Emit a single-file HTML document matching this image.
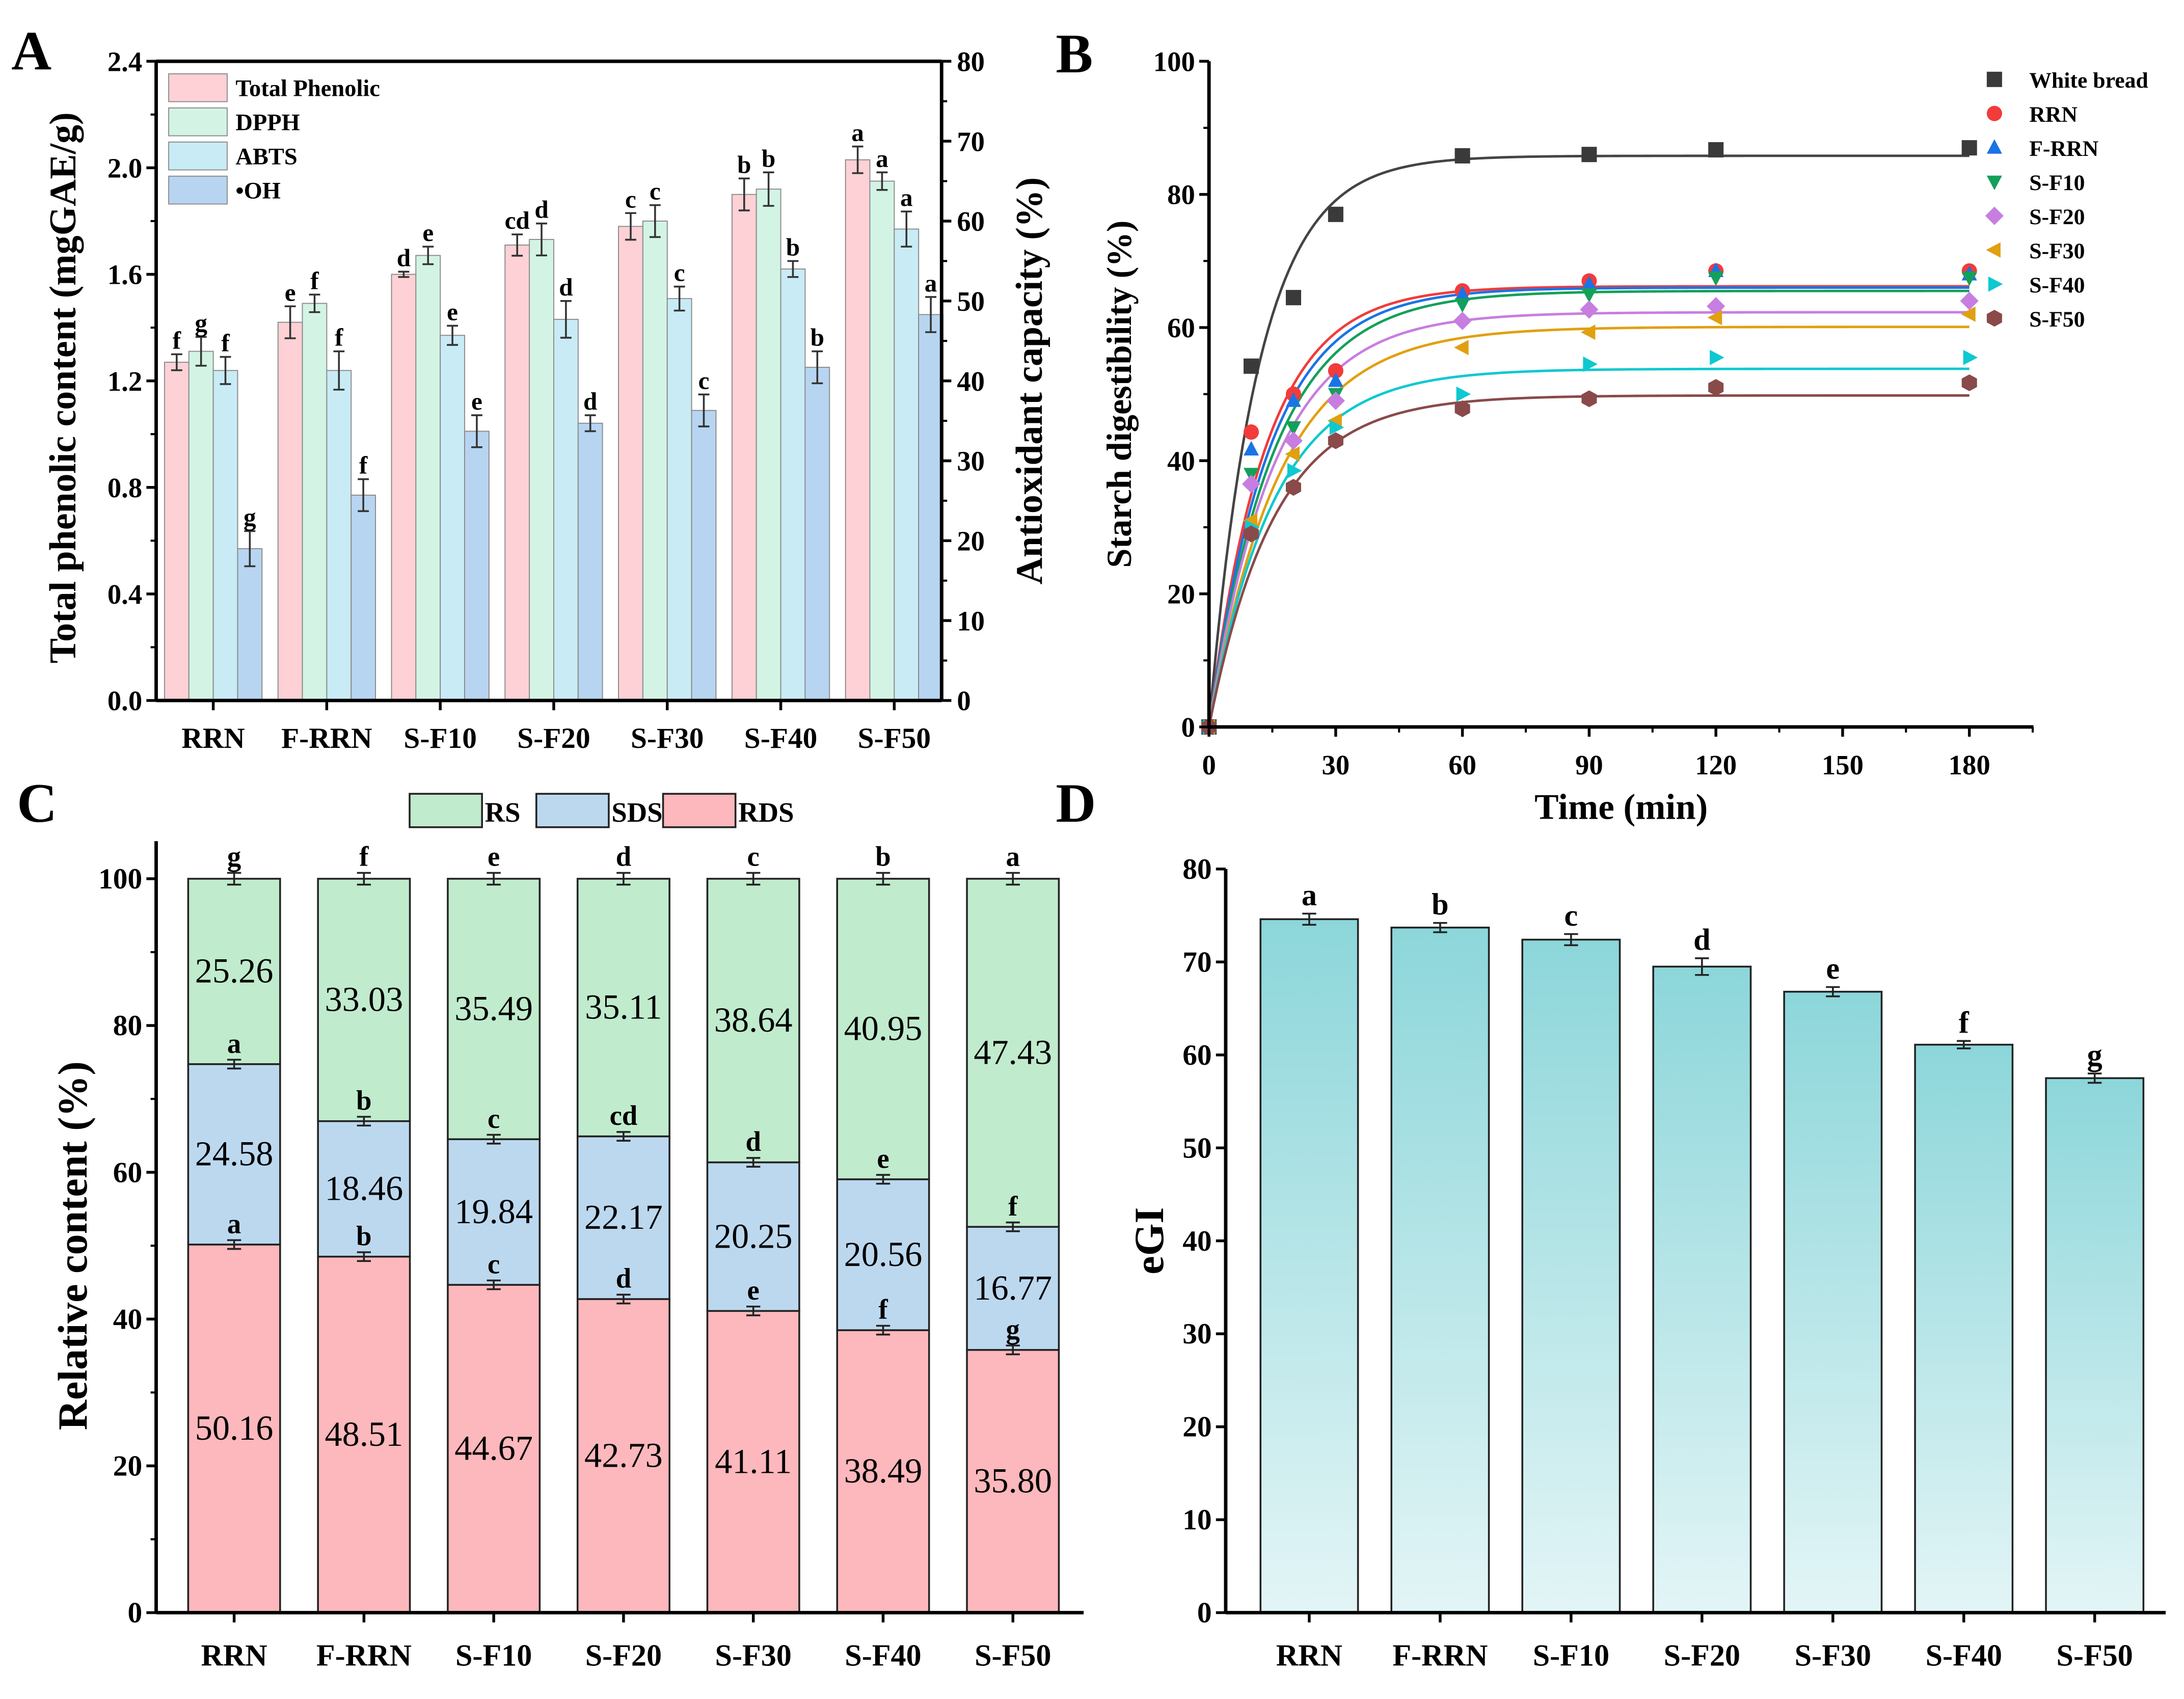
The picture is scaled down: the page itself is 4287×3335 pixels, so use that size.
<!DOCTYPE html>
<html><head><meta charset="utf-8"><style>
html,body{margin:0;padding:0;background:#fff}
svg{display:block;font-family:"Liberation Serif",serif;font-weight:bold}
</style></head><body>
<svg id="s" width="4287" height="3335" viewBox="0 0 1568 1220" xmlns="http://www.w3.org/2000/svg">
<defs><linearGradient id="gd" x1="0" y1="0" x2="0" y2="1"><stop offset="0" stop-color="#8cd6da"/><stop offset="1" stop-color="#e3f5f6"/></linearGradient></defs>
<text x="8" y="50" font-size="40">A</text>
<text x="758" y="52" font-size="40">B</text>
<text x="12" y="590" font-size="40">C</text>
<text x="758" y="590" font-size="40">D</text>
</svg>
<script>
const groups=["RRN","F-RRN","S-F10","S-F20","S-F30","S-F40","S-F50"];
const phenolic=[1.27,1.42,1.60,1.71,1.78,1.90,2.03];
const phenolicErr=[0.03,0.06,0.01,0.04,0.05,0.06,0.05];
const dpph=[43.7,49.7,55.7,57.7,60,64,65];
const dpphErr=[1.8,1.1,1.1,2.0,2.0,2.1,1.1];
const abts=[41.3,41.3,45.7,47.7,50.3,54,59];
const abtsErr=[1.7,2.4,1.2,2.3,1.5,1.0,2.2];
const oh=[19,25.7,33.7,34.7,36.3,41.7,48.3];
const ohErr=[2.2,2.0,2.0,1.0,2.0,2.0,2.2];
const lettersA=[["f","e","d","cd","c","b","a"],["g","f","e","d","c","b","a"],["f","f","e","d","c","b","a"],["g","f","e","d","c","b","a"]];
const timeMin=[0,10,20,30,60,90,120,180];
const seriesNames=["White bread","RRN","F-RRN","S-F10","S-F20","S-F30","S-F40","S-F50"];
const digest=[[0,54.2,64.5,77,85.8,86,86.7,87],[0,44.3,50,53.5,65.5,67,68.5,68.5],[0,41.7,49,52,65,66.5,68.5,68],[0,38,45,50,63.5,65,67.5,67.5],[0,36.5,43,49,61,62.7,63.2,64],[0,31,41,46,57,59.3,61.5,62],[0,30,38.5,45,50,54.5,55.5,55.5],[0,29,36,43,47.8,49.3,51,51.7]];
const fitCinf=[85.8,66.2,66,65.5,62.3,60.1,53.8,49.8];
const fitK=[0.085,0.075,0.07,0.065,0.065,0.06,0.065,0.065];
const rds=[50.16,48.51,44.67,42.73,41.11,38.49,35.80];
const sds=[24.58,18.46,19.84,22.17,20.25,20.56,16.77];
const rs=[25.26,33.03,35.49,35.11,38.64,40.95,47.43];
const rdsL=["a","b","c","d","e","f","g"],sdsL=["a","b","c","cd","d","e","f"],rsL=["g","f","e","d","c","b","a"];
const egi=[74.6,73.7,72.4,69.5,66.8,61.1,57.5];
const egiErr=[0.6,0.5,0.6,0.9,0.5,0.4,0.5];
const egiL=["a","b","c","d","e","f","g"];

const S=document.getElementById('s');const NS="http://www.w3.org/2000/svg";
function mk(t,a,p,txt){const e=document.createElementNS(NS,t);for(const k in a)e.setAttribute(k,a[k]);if(txt!==undefined)e.textContent=txt;(p||S).appendChild(e);return e;}
function line(x1,y1,x2,y2,w,c,name){const e=mk('line',{x1,y1,x2,y2,stroke:c||'#000','stroke-width':w||1});

return e;}
function txt(x,y,s,fs,anchor,name,extra){const e=mk('text',Object.assign({x,y,'font-size':fs,'text-anchor':anchor||'middle'},extra||{}),null,s);

return e;}
function errbar(x,y1,y2,w,c){const g=mk('g',{stroke:c||'#333','stroke-width':1.3});


mk('line',{x1:x,y1:y1,x2:x,y2:y2},g);mk('line',{x1:x-w,y1:y1,x2:x+w,y2:y1},g);mk('line',{x1:x-w,y1:y2,x2:x+w,y2:y2},g);}

// ---------- Panel A ----------
(function(){
const L=112,R=676,T=44,B=503;
const yL=v=>B-(v/2.4)*(B-T), yR=v=>B-(v/80)*(B-T);
const gx=i=>153+i*81.5;const bw=17.5;
const cols=["#fdd1d5","#d3f4e5","#c9ebf5","#b7d5f1"];
const vals=[phenolic,dpph,abts,oh],errs=[phenolicErr,dpphErr,abtsErr,ohErr];
const names=["bar-total-phenolic","bar-dpph","bar-abts","bar-oh"];
for(let s=0;s<4;s++){for(let i=0;i<7;i++){
 const f=s==0?yL:yR;const v=vals[s][i],e=errs[s][i];
 const x=gx(i)+(s-2)*bw;const y=f(v);
 const r=mk('rect',{x:x,y:y,width:bw,height:B-y,fill:cols[s],stroke:'#8a8a8a','stroke-width':0.7});
 
 
 const ye=s==0?yL(v+e):yR(v+e),yb=s==0?yL(v-e):yR(v-e);
 errbar(x+bw/2,ye,yb,4);
 txt(x+bw/2,ye-4,lettersA[s][i],18,'middle','significance-letter');
}}
line(L,T,L,B,2.5);line(R,T,R,B,2.5);line(L,T,R,T,2.5);line(L,B,R,B,2.5);
for(let k=0;k<=6;k++){const v=k*0.4,y=yL(v);line(L-7,y,L,y,2);txt(L-10,y+7,v.toFixed(1),20,'end','y-tick-label-left');if(k<6)line(L-4,yL(v+0.2),L,yL(v+0.2),1.5);}
for(let k=0;k<=8;k++){const v=k*10,y=yR(v);line(R,y,R+7,y,2);txt(R+11,y+7,String(v),20,'start','y-tick-label-right');if(k<8)line(R,yR(v+5),R+4,yR(v+5),1.5);}
groups.forEach((g,i)=>{line(gx(i),B,gx(i),B+7,2);txt(gx(i),B+34,g,21,'middle','x-tick-label');});
txt(0,0,"Total phenolic content (mgGAE/g)",27,'middle','y-axis-title-left',{transform:`translate(54,${(T+B)/2+5}) rotate(-90)`});
txt(0,0,"Antioxidant capacity (%)",27,'middle','y-axis-title-right',{transform:`translate(748,${(T+B)/2}) rotate(-90)`});
const ln=["Total Phenolic","DPPH","ABTS","\u2022OH"];
for(let s=0;s<4;s++){const y=53+s*24.5;const r=mk('rect',{x:121,y:y,width:42,height:20,fill:cols[s],stroke:'#8a8a8a','stroke-width':0.7});


txt(169,y+16,ln[s],17,'start','legend-entry');}
})();

// ---------- Panel B ----------
(function(){
const L=868,R=1460,T=44,B=522;
const X=t=>L+t*(1414-L)/180,Y=v=>B-v*(B-T)/100;
const cols=["#3a3a3a","#f23b3b","#1a74e6","#14a05a","#c77ee0","#e0a010","#10c8d0","#8a4a4a"];
const lcols=["#444","#f23b3b","#1a74e6","#14a05a","#c77ee0","#e0a010","#10c8d0","#8a4a4a"];
function marker(k,x,y,r){let e;const c=cols[k];
 if(k==0)e=mk('rect',{x:x-r,y:y-r,width:2*r,height:2*r,fill:c});
 else if(k==1)e=mk('circle',{cx:x,cy:y,r:r,fill:c});
 else{let p;
  if(k==2)p=[[0,-r*1.1],[r,r*0.8],[-r,r*0.8]];
  if(k==3)p=[[0,r*1.1],[r,-r*0.8],[-r,-r*0.8]];
  if(k==4)p=[[0,-r*1.2],[r*1.2,0],[0,r*1.2],[-r*1.2,0]];
  if(k==5)p=[[-r*1.1,0],[r*0.8,-r],[r*0.8,r]];
  if(k==6)p=[[r*1.1,0],[-r*0.8,-r],[-r*0.8,r]];
  if(k==7)p=[[0,-r*1.1],[r,-r*0.55],[r,r*0.55],[0,r*1.1],[-r,r*0.55],[-r,-r*0.55]];
  e=mk('polygon',{points:p.map(q=>(x+q[0])+','+(y+q[1])).join(' '),fill:c});}
 return e;}
for(let k=0;k<8;k++){
 let d='';for(let t=0;t<=180;t+=1){const v=fitCinf[k]*(1-Math.exp(-fitK[k]*t));d+=(t?'L':'M')+X(t).toFixed(2)+','+Y(v).toFixed(2);}
 const p=mk('path',{d:d,fill:'none',stroke:lcols[k],'stroke-width':1.8});
 
 
}
for(let k=0;k<8;k++){timeMin.forEach((t,i)=>{const m=marker(k,X(t),Y(digest[k][i]),5.5);
 
 });
 const ly=57+k*24.5;const m=marker(k,1432,ly,5.5);
 
 
 txt(1457,ly+6,seriesNames[k],16,'start','legend-entry');}
line(L,T,L,B,2.5);line(L,B,R,B,2.5);
for(let v=0;v<=100;v+=20){line(L-7,Y(v),L,Y(v),2);txt(L-10,Y(v)+7,String(v),20,'end','y-tick-label');if(v<100)line(L-4,Y(v+10),L,Y(v+10),1.5);}
for(let t=0;t<=180;t+=30){line(X(t),B,X(t),B+7,2);txt(X(t),B+34,String(t),20,'middle','x-tick-label');line(X(t+15),B,X(t+15),B+4,1.5);}
txt(1164,B+66,"Time (min)",26,'middle','x-axis-title');
txt(0,0,"Starch digestibility (%)",25,'middle','y-axis-title',{transform:`translate(812,${(T+B)/2}) rotate(-90)`});
})();

// ---------- Panel C ----------
(function(){
const L=112,R=778,T=604,B=1158;const y0=1158,y100=631;
const Y=v=>y0-v*(y0-y100)/100;const cx=i=>168+i*93.2;const bw=66;
const cRS="#c0ebcd",cSDS="#bcd8ef",cRDS="#fcb8bc";
for(let i=0;i<7;i++){const x=cx(i)-bw/2;
 const parts=[[0,rds[i],cRDS,'bar-rds'],[rds[i],rds[i]+sds[i],cSDS,'bar-sds'],[rds[i]+sds[i],100,cRS,'bar-rs']];
 parts.forEach(p=>{const r=mk('rect',{x:x,y:Y(p[1]),width:bw,height:Y(p[0])-Y(p[1]),fill:p[2],stroke:'#222','stroke-width':1.3});
  
  });
 txt(cx(i),Y(rds[i]/2)+8,rds[i].toFixed(2),25,'middle','value-label',{'font-weight':'normal'});
 txt(cx(i),Y(rds[i]+sds[i]/2)+8,sds[i].toFixed(2),25,'middle','value-label',{'font-weight':'normal'});
 txt(cx(i),Y(rds[i]+sds[i]+rs[i]/2)+8,rs[i].toFixed(2),25,'middle','value-label',{'font-weight':'normal'});
 const a=rds[i],b=rds[i]+sds[i];
 errbar(cx(i),Y(a+0.6),Y(a-0.6),5,'#222');txt(cx(i),Y(a+0.6)-5,rdsL[i],20,'middle','significance-letter');
 errbar(cx(i),Y(b+0.6),Y(b-0.6),5,'#222');txt(cx(i),Y(b+0.6)-5,sdsL[i],20,'middle','significance-letter');
 errbar(cx(i),Y(100.8),Y(99.2),5,'#222');txt(cx(i),Y(100.8)-5,rsL[i],20,'middle','significance-letter');
 line(cx(i),B,cx(i),B+7,2);txt(cx(i),B+38,groups[i],22,'middle','x-tick-label');}
line(L,T,L,B,2.5);line(L,B,R,B,2.5);
for(let v=0;v<=100;v+=20){line(L-7,Y(v),L,Y(v),2);txt(L-10,Y(v)+7,String(v),21,'end','y-tick-label');if(v<100)line(L-4,Y(v+10),L,Y(v+10),1.5);}
txt(0,0,"Relative content (%)",30,'middle','y-axis-title',{transform:`translate(62,${(y100+y0)/2}) rotate(-90)`});
const lg=[[294,cRS,"RS"],[385,cSDS,"SDS"],[476,cRDS,"RDS"]];
lg.forEach(l=>{const r=mk('rect',{x:l[0],y:570,width:52,height:24,fill:l[1],stroke:'#222','stroke-width':1.3});
 
 
 txt(l[0]+54,590,l[2],20,'start','legend-entry');});
})();

// ---------- Panel D ----------
(function(){
const L=880,R=1555,B=1158,T=624;
const Y=v=>B-v*(B-T)/80;const cx=i=>940+i*94;const bw=70;
for(let i=0;i<7;i++){const y=Y(egi[i]);
 const r=mk('rect',{x:cx(i)-bw/2,y:y,width:bw,height:B-y,fill:'url(#gd)',stroke:'#222','stroke-width':1.3});
 
 
 errbar(cx(i),Y(egi[i]+egiErr[i]),Y(egi[i]-egiErr[i]),5,'#222');
 txt(cx(i),Y(egi[i]+egiErr[i])-6,egiL[i],22,'middle','significance-letter');
 line(cx(i),B,cx(i),B+7,2);txt(cx(i),B+38,groups[i],22,'middle','x-tick-label');}
line(L,T,L,B,2.5);line(L,B,R,B,2.5);
for(let v=0;v<=80;v+=10){line(L-7,Y(v),L,Y(v),2);txt(L-10,Y(v)+7,String(v),21,'end','y-tick-label');}
txt(0,0,"eGI",30,'middle','y-axis-title',{transform:`translate(835,${(T+B)/2}) rotate(-90)`});
})();
</script>
</body></html>
